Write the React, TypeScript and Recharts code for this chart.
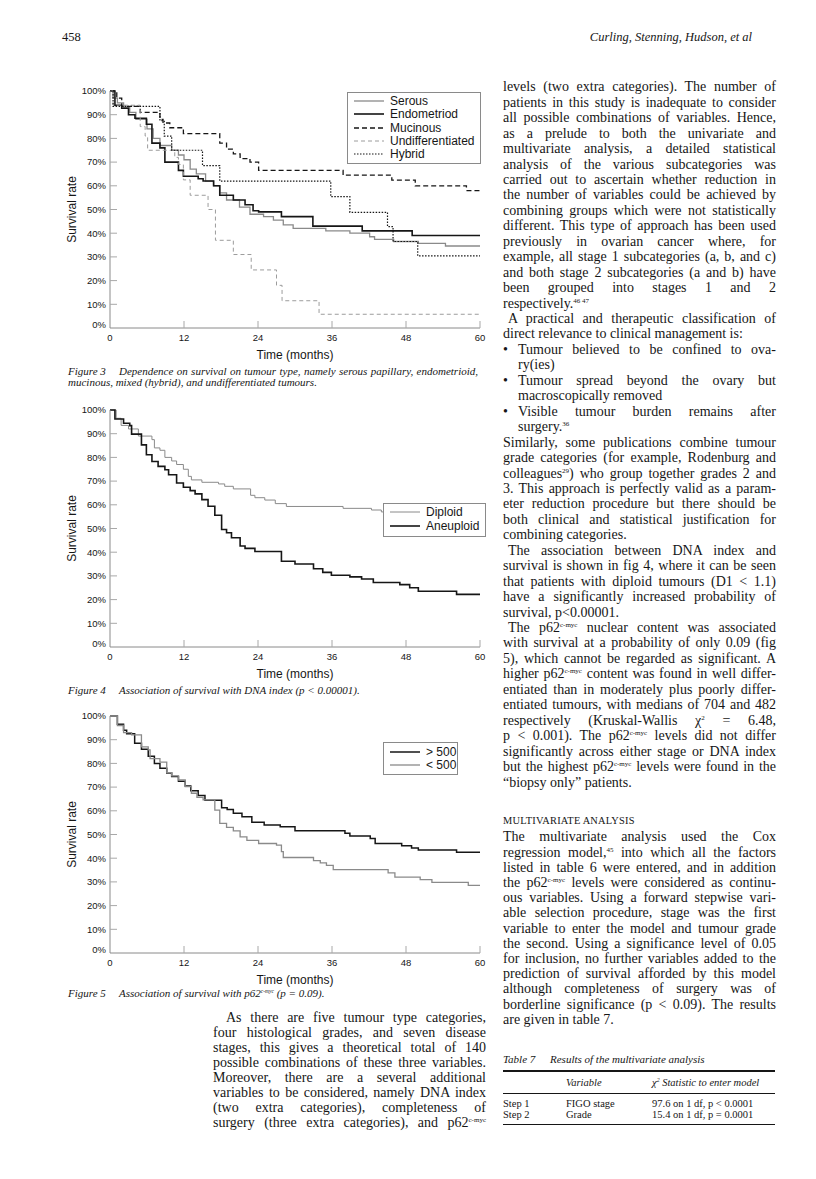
import React from "react";
import { LineChart, Line, XAxis, YAxis, Legend } from "recharts";

const SERIF = "'Liberation Serif', 'Times New Roman', serif";
const SANS = "'Liberation Sans', Arial, Helvetica, sans-serif";
const INK = "#161616";
const GREY = "#8a8a8a";
const AXIS = "#8a8a8a";
const TICK = "#a8a8a8";

// time axis (months) and survival axis (%)
const monthTicks = [0, 12, 24, 36, 48, 60];
const rateTicks = [0, 10, 20, 30, 40, 50, 60, 70, 80, 90, 100];

// Figure 3: survival by tumour type, [month, survival %]
const serous = [[0, 100], [0.5, 97], [1.2, 95], [2.2, 93], [3.2, 91], [4.2, 88], [6, 84], [7, 80], [8.1, 77], [10, 75], [11.1, 73], [12, 71], [13, 67], [14, 65], [15.5, 62], [16.8, 60], [17.8, 57], [18.9, 54], [21, 51], [22.7, 48], [24.9, 47], [26.5, 45.5], [28.1, 43.5], [29.7, 42], [35, 41], [38.9, 40], [42.1, 38.5], [42.9, 37.4], [46, 36.5], [50, 35.7], [54.4, 34.6], [60, 34.6]];
const endometriod = [[0, 100], [0.8, 94], [1.9, 92.7], [3, 90], [4.05, 88.5], [5.9, 86], [6.8, 78], [8.1, 76], [8.9, 70], [11.1, 66.5], [11.9, 64], [14.3, 63], [15.1, 62], [16.8, 60], [17.8, 56], [20, 54], [21.9, 52], [23.2, 49.5], [24.1, 49], [27.8, 47], [32.9, 43], [40.9, 41], [49, 39], [60, 39]];
const mucinous = [[0, 100], [1.1, 97], [1.9, 93.5], [4.9, 91], [8.1, 88], [8.6, 86.5], [9.7, 84.5], [11.9, 82], [17.8, 78], [18.9, 75.5], [20, 73.5], [21.1, 71.5], [22.7, 70], [24.1, 66.5], [37.8, 64.5], [45.7, 62.4], [49.5, 60], [57.8, 58], [60, 58]];
const undifferentiated = [[0, 100], [0.5, 94], [4.9, 85], [5.7, 81], [6.1, 75], [10.5, 72], [11.1, 69], [11.9, 62.5], [13, 56], [15.9, 50], [17.1, 37], [20, 31], [22.9, 24.5], [27, 18], [27.9, 11.5], [33.9, 5.8], [60, 5.8]];
const hybrid = [[0, 100], [0.5, 93.5], [8.1, 87.5], [8.8, 81], [10, 75], [15, 68.5], [17.8, 62], [35.8, 55.4], [38.9, 48.8], [45, 42.8], [45.9, 36.5], [49.9, 30.4], [60, 30.4]];

// Figure 4: survival by DNA index
const diploid = [[0, 100], [1, 96.5], [1.8, 93.5], [3, 92], [4.6, 89], [6.8, 87.5], [7.2, 84], [8.1, 83], [8.9, 80], [10, 78.5], [10.8, 77], [11.9, 75], [12.7, 72], [13.2, 70.5], [14.9, 69.5], [17.6, 68.8], [18.6, 67.8], [20, 66.7], [22.8, 64], [23.5, 63], [25.1, 62], [26.8, 60.5], [28.6, 59.3], [37.8, 58.5], [42.4, 57.8], [44, 57], [60, 57]];
const aneuploid = [[0, 100], [0.8, 96.2], [2.2, 94.4], [3.2, 93.4], [3.5, 89.8], [5.1, 85.3], [5.9, 81.1], [6.8, 78.3], [7.8, 76.2], [8.9, 74.8], [9.5, 72.7], [10.8, 69.2], [11.9, 67.4], [13, 66], [13.8, 64.6], [14.9, 62.2], [15.9, 59.4], [17, 55.6], [18.1, 49.6], [18.9, 48.2], [19.7, 46.1], [21.1, 42.6], [21.9, 41.6], [23.5, 40.3], [27.8, 36.2], [30, 35], [33, 33], [34.5, 31.5], [35.9, 30.3], [38.9, 29.6], [40.8, 28.7], [42.7, 27.2], [47, 26.3], [48.6, 25], [50, 23.5], [56.2, 22.2], [60, 22.2]];

// Figure 5: survival by p62 c-myc level
const above500 = [[0, 100], [1.2, 96.5], [2.2, 94], [2.7, 92.5], [4, 88.5], [5.1, 86], [6.2, 83], [7.2, 80], [8.1, 78], [9.2, 76], [10, 74.5], [11.1, 72.5], [12.2, 70.5], [13.1, 68.5], [14.3, 66.5], [15.4, 64.5], [18.1, 61.3], [19, 60.5], [20, 59], [21.4, 57.5], [23, 55.2], [25, 54], [27.6, 53.3], [30, 51.6], [38.1, 50.5], [38.9, 49.4], [42.2, 48.3], [43, 46.2], [47.3, 45.3], [48.9, 44.3], [50, 43.5], [56.2, 42.5], [60, 42.5]];
const below500 = [[0, 100], [1.2, 96], [2.2, 93], [3.5, 92], [5.1, 87], [6.2, 85.7], [6.5, 82], [8.1, 80.5], [9.2, 76.1], [10, 74.7], [11.1, 73], [12.2, 70.2], [13.2, 67.4], [14.1, 65.7], [15.1, 64.6], [17, 60.3], [17.8, 54.7], [18.9, 53], [20, 51.5], [21.1, 49], [22.2, 47.5], [24.1, 46.2], [27, 45.5], [27.8, 42.8], [28.1, 40.3], [33, 39], [34.1, 38], [35.1, 37], [36.2, 35.2], [45.1, 33.8], [46.2, 32], [50.3, 31], [52.2, 29.8], [58.1, 28.5], [60, 28.5]];

type Series = { name: string; data: number[][]; stroke: string; width: number; dash?: string };

const fig3Series: Series[] = [
  { name: "Serous", data: serous, stroke: GREY, width: 1.3 },
  { name: "Endometriod", data: endometriod, stroke: INK, width: 1.6 },
  { name: "Mucinous", data: mucinous, stroke: INK, width: 1.3, dash: "5 3" },
  { name: "Undifferentiated", data: undifferentiated, stroke: "#9c9c9c", width: 1, dash: "4 3" },
  { name: "Hybrid", data: hybrid, stroke: INK, width: 1.2, dash: "1.5 1.5" },
];
const fig4Series: Series[] = [
  { name: "Diploid", data: diploid, stroke: GREY, width: 1 },
  { name: "Aneuploid", data: aneuploid, stroke: INK, width: 1.6 },
];
const fig5Series: Series[] = [
  { name: "> 500", data: above500, stroke: INK, width: 1.5 },
  { name: "< 500", data: below500, stroke: GREY, width: 1.3 },
];

// page text, one entry per printed line
// "> " indent, "• " bullet, "~ " bullet continuation, trailing "|" = not justified
const rightColA = [
  "levels (two extra categories). The number of",
  "patients in this study is inadequate to consider",
  "all possible combinations of variables. Hence,",
  "as a prelude to both the univariate and",
  "multivariate analysis, a detailed statistical",
  "analysis of the various subcategories was",
  "carried out to ascertain whether reduction in",
  "the number of variables could be achieved by",
  "combining groups which were not statistically",
  "different. This type of approach has been used",
  "previously in ovarian cancer where, for",
  "example, all stage 1 subcategories (a, b, and c)",
  "and both stage 2 subcategories (a and b) have",
  "been grouped into stages 1 and 2",
  "respectively.^{46 47}|",
  "> A practical and therapeutic classification of",
  "direct relevance to clinical management is:|",
  "• Tumour believed to be confined to ova-",
  "~ ry(ies)|",
  "• Tumour spread beyond the ovary but",
  "~ macroscopically removed|",
  "• Visible tumour burden remains after",
  "~ surgery.^{36}|",
  "Similarly, some publications combine tumour",
  "grade categories (for example, Rodenburg and",
  "colleagues^{29}) who group together grades 2 and",
  "3. This approach is perfectly valid as a param-",
  "eter reduction procedure but there should be",
  "both clinical and statistical justification for",
  "combining categories.|",
  "> The association between DNA index and",
  "survival is shown in fig 4, where it can be seen",
  "that patients with diploid tumours (D1 < 1.1)",
  "have a significantly increased probability of",
  "survival, p<0.00001.|",
  "> The p62^{c-myc} nuclear content was associated",
  "with survival at a probability of only 0.09 (fig",
  "5), which cannot be regarded as significant. A",
  "higher p62^{c-myc} content was found in well differ-",
  "entiated than in moderately plus poorly differ-",
  "entiated tumours, with medians of 704 and 482",
  "respectively (Kruskal-Wallis χ^{2} = 6.48,",
  "p < 0.001). The p62^{c-myc} levels did not differ",
  "significantly across either stage or DNA index",
  "but the highest p62^{c-myc} levels were found in the",
  "“biopsy only” patients.|",
];
const rightColB = [
  "The multivariate analysis used the Cox",
  "regression model,^{45} into which all the factors",
  "listed in table 6 were entered, and in addition",
  "the p62^{c-myc} levels were considered as continu-",
  "ous variables. Using a forward stepwise vari-",
  "able selection procedure, stage was the first",
  "variable to enter the model and tumour grade",
  "the second. Using a significance level of 0.05",
  "for inclusion, no further variables added to the",
  "prediction of survival afforded by this model",
  "although completeness of surgery was of",
  "borderline significance (p < 0.09). The results",
  "are given in table 7.|",
];
const leftColLines = [
  "> As there are five tumour type categories,",
  "four histological grades, and seven disease",
  "stages, this gives a theoretical total of 140",
  "possible combinations of these three variables.",
  "Moreover, there are a several additional",
  "variables to be considered, namely DNA index",
  "(two extra categories), completeness of",
  "surgery (three extra categories), and p62^{c-myc}",
];

function Rich({ s }: { s: string }) {
  const parts = s.split(/(\^\{[^}]*\})/);
  return (
    <>
      {parts.map((p, i) =>
        p.startsWith("^{") ? (
          <sup key={i} style={{ fontSize: "0.5em", lineHeight: 0, verticalAlign: "0.75em" }}>
            {p.slice(2, -1)}
          </sup>
        ) : (
          <span key={i}>{p}</span>
        )
      )}
    </>
  );
}

function TextBlock({ lines, x, width, y0, pitch, size = 14, indent = 5 }: {
  lines: string[]; x: number; width: number; y0: number; pitch: number; size?: number; indent?: number;
}) {
  return (
    <>
      {lines.map((raw, i) => {
        let s = raw;
        let left = 0;
        let bullet = false;
        const last = s.endsWith("|");
        if (last) s = s.slice(0, -1);
        if (s.startsWith("> ")) { left = indent; s = s.slice(2); }
        else if (s.startsWith("• ")) { left = 15; bullet = true; s = s.slice(2); }
        else if (s.startsWith("~ ")) { left = 15; s = s.slice(2); }
        return (
          <div
            key={i}
            style={{
              position: "absolute",
              left: x + left,
              top: y0 + i * pitch - pitch / 2,
              width: width - left,
              height: pitch,
              lineHeight: `${pitch}px`,
              fontFamily: SERIF,
              fontSize: size,
              color: INK,
              textAlign: "justify",
              textAlignLast: last ? "left" : "justify",
            }}
          >
            {bullet && <span style={{ position: "absolute", left: -15 }}>•</span>}
            <Rich s={s} />
          </div>
        );
      })}
    </>
  );
}

function XTick(props: any) {
  const { x, y, payload } = props;
  const v = payload.value;
  return (
    <g>
      {v !== 0 && <line x1={x} x2={x} y1={y} y2={y - 7} stroke={TICK} strokeWidth={1} />}
      <text x={x} y={y + 10} dy="0.35em" textAnchor="middle" fontFamily={SANS} fontSize={9.5} fill={INK}>
        {v}
      </text>
    </g>
  );
}

function YTick(props: any) {
  const { x, y, payload } = props;
  const v = payload.value;
  return (
    <g>
      {v !== 0 && v !== 100 && <line x1={x} x2={x + 7} y1={y} y2={y} stroke={TICK} strokeWidth={1} />}
      <text x={x - 4} y={v === 0 ? y - 3 : y} dy="0.35em" textAnchor="end" fontFamily={SANS} fontSize={9.5} fill={INK}>
        {`${v}%`}
      </text>
    </g>
  );
}

type LegendSpec = { left: number; top: number; width: number; height: number; rowTop: number; rowH: number; textX: number };

function LegendBox({ series, spec }: { series: Series[]; spec: LegendSpec }) {
  return (
    <div
      style={{
        position: "relative",
        width: spec.width,
        height: spec.height,
        boxSizing: "border-box",
        border: `1px solid ${AXIS}`,
        background: "#ffffff",
      }}
    >
      {series.map((s, i) => (
        <div
          key={s.name}
          style={{
            position: "absolute",
            left: 0,
            top: spec.rowTop + i * spec.rowH - spec.rowH / 2 - 1,
            height: spec.rowH,
            display: "flex",
            alignItems: "center",
            whiteSpace: "nowrap",
          }}
        >
          <svg width={30} height={4} style={{ marginLeft: 6 }}>
            <line x1={0} x2={30} y1={2} y2={2} stroke={s.stroke} strokeWidth={s.width} strokeDasharray={s.dash} />
          </svg>
          <span style={{ marginLeft: spec.textX - 37, fontFamily: SANS, fontSize: 12, color: INK, lineHeight: 1 }}>
            {s.name}
          </span>
        </div>
      ))}
    </div>
  );
}

function SurvivalChart({ left, top, series, legend }: { left: number; top: number; series: Series[]; legend: LegendSpec }) {
  return (
    <div style={{ position: "absolute", left, top }}>
      <LineChart width={440} height={284} margin={{ top: 10, right: 20, bottom: 6, left: 0 }}>
        <XAxis
          dataKey="t"
          type="number"
          domain={[0, 60]}
          ticks={monthTicks}
          tick={(p: any) => <XTick {...p} />}
          tickLine={false}
          tickSize={0}
          tickMargin={0}
          axisLine={{ stroke: AXIS, strokeWidth: 1 }}
          height={31}
          label={{
            value: "Time (months)",
            position: "insideBottom",
            offset: 0,
            style: { fontFamily: SANS, fontSize: 12, fill: INK },
          }}
        />
        <YAxis
          type="number"
          domain={[0, 100]}
          ticks={rateTicks}
          tick={(p: any) => <YTick {...p} />}
          tickLine={false}
          tickSize={0}
          tickMargin={0}
          axisLine={{ stroke: AXIS, strokeWidth: 1 }}
          width={50}
          label={{
            value: "Survival rate",
            angle: -90,
            position: "insideLeft",
            offset: 12,
            style: { textAnchor: "middle", fontFamily: SANS, fontSize: 12, fill: INK },
          }}
        />
        <Legend
          layout="vertical"
          align="center"
          verticalAlign="middle"
          wrapperStyle={{ left: legend.left, top: legend.top, width: legend.width, height: legend.height }}
          content={() => <LegendBox series={series} spec={legend} />}
        />
        {series.map((s) => (
          <Line
            key={s.name}
            name={s.name}
            data={s.data.map(([t, v]) => ({ t, v }))}
            dataKey="v"
            type="stepAfter"
            stroke={s.stroke}
            strokeWidth={s.width}
            strokeDasharray={s.dash}
            dot={false}
            activeDot={false}
            isAnimationActive={false}
          />
        ))}
      </LineChart>
    </div>
  );
}

const capStyle: React.CSSProperties = {
  position: "absolute",
  fontFamily: SERIF,
  fontStyle: "italic",
  fontSize: 11,
  color: INK,
  lineHeight: "12px",
  whiteSpace: "nowrap",
};

function FigLabel({ n }: { n: number }) {
  return (
    <span style={{ display: "inline-block", width: 51, textAlign: "left", textAlignLast: "left" }}>
      Figure {n}
    </span>
  );
}

export default function App() {
  return (
    <div
      style={{
        position: "absolute",
        left: 0,
        top: 0,
        width: 816,
        height: 1179,
        background: "#ffffff",
        overflow: "hidden",
      }}
    >
      {/* Running head */}
      <div style={{ position: "absolute", left: 62, top: 30, fontFamily: SERIF, fontSize: 12.5, color: INK }}>458</div>
      <div style={{ position: "absolute", right: 816 - 752, top: 30, fontFamily: SERIF, fontStyle: "italic", fontSize: 12.5, color: INK }}>
        Curling, Stenning, Hudson, et al
      </div>

      {/* Figure 3 */}
      <SurvivalChart
        left={60}
        top={81}
        series={fig3Series}
        legend={{ left: 287, top: 11, width: 134, height: 72, rowTop: 9, rowH: 13.3, textX: 43 }}
      />
      <div style={{ ...capStyle, left: 68, top: 365, width: 410, textAlign: "justify", textAlignLast: "justify" }}>
        <FigLabel n={3} />Dependence on survival on tumour type, namely serous papillary, endometrioid,
      </div>
      <div style={{ ...capStyle, left: 68, top: 376 }}>
        mucinous, mixed (hybrid), and undifferentiated tumours.
      </div>

      {/* Figure 4 */}
      <SurvivalChart
        left={60}
        top={400}
        series={fig4Series}
        legend={{ left: 323, top: 103, width: 103, height: 34, rowTop: 9, rowH: 14, textX: 43 }}
      />
      <div style={{ ...capStyle, left: 68, top: 684 }}>
        <FigLabel n={4} />Association of survival with DNA index (p &lt; 0.00001).
      </div>

      {/* Figure 5 */}
      <SurvivalChart
        left={60}
        top={706}
        series={fig5Series}
        legend={{ left: 323, top: 36, width: 75, height: 33, rowTop: 9.5, rowH: 13.5, textX: 43 }}
      />
      <div style={{ ...capStyle, left: 68, top: 987 }}>
        <FigLabel n={5} />Association of survival with p62
        <sup style={{ fontSize: "0.5em", lineHeight: 0, verticalAlign: "0.75em" }}>c-myc</sup> (p = 0.09).
      </div>

      {/* Left column text under the figures */}
      <TextBlock lines={leftColLines} x={213} width={273} y0={1017} pitch={15} indent={13} />

      {/* Right column */}
      <TextBlock lines={rightColA} x={503} width={273} y0={87} pitch={15.45} />
      <div
        style={{
          position: "absolute",
          left: 503,
          top: 815,
          fontFamily: SERIF,
          fontSize: 10.4,
          color: INK,
          letterSpacing: 0.2,
        }}
      >
        MULTIVARIATE ANALYSIS
      </div>
      <TextBlock lines={rightColB} x={503} width={273} y0={837} pitch={15.2} />

      {/* Table 7 */}
      <div style={{ ...capStyle, left: 503, top: 1053 }}>
        <span style={{ display: "inline-block", width: 47 }}>Table 7</span>Results of the multivariate analysis
      </div>
      <div style={{ position: "absolute", left: 503, top: 1070, width: 272, height: 1.5, background: INK }} />
      <div style={{ ...capStyle, left: 566, top: 1077, fontSize: 10.5 }}>Variable</div>
      <div style={{ ...capStyle, left: 652, top: 1077, fontSize: 10.5 }}>
        χ<sup style={{ fontSize: "0.55em", lineHeight: 0, verticalAlign: "0.75em" }}>2</sup> Statistic to enter model
      </div>
      <div style={{ position: "absolute", left: 503, top: 1093, width: 272, height: 1, background: INK }} />
      {[
        ["Step 1", "FIGO stage", "97.6 on 1 df, p < 0.0001"],
        ["Step 2", "Grade", "15.4 on 1 df, p = 0.0001"],
      ].map((row, i) => (
        <React.Fragment key={row[0]}>
          {row.map((cell, j) => (
            <div
              key={j}
              style={{
                position: "absolute",
                left: [503, 566, 652][j],
                top: 1098 + i * 10.5,
                fontFamily: SERIF,
                fontSize: 10.5,
                lineHeight: "12px",
                color: INK,
                whiteSpace: "nowrap",
              }}
            >
              {cell}
            </div>
          ))}
        </React.Fragment>
      ))}
      <div style={{ position: "absolute", left: 503, top: 1124, width: 272, height: 1.3, background: INK }} />
    </div>
  );
}
